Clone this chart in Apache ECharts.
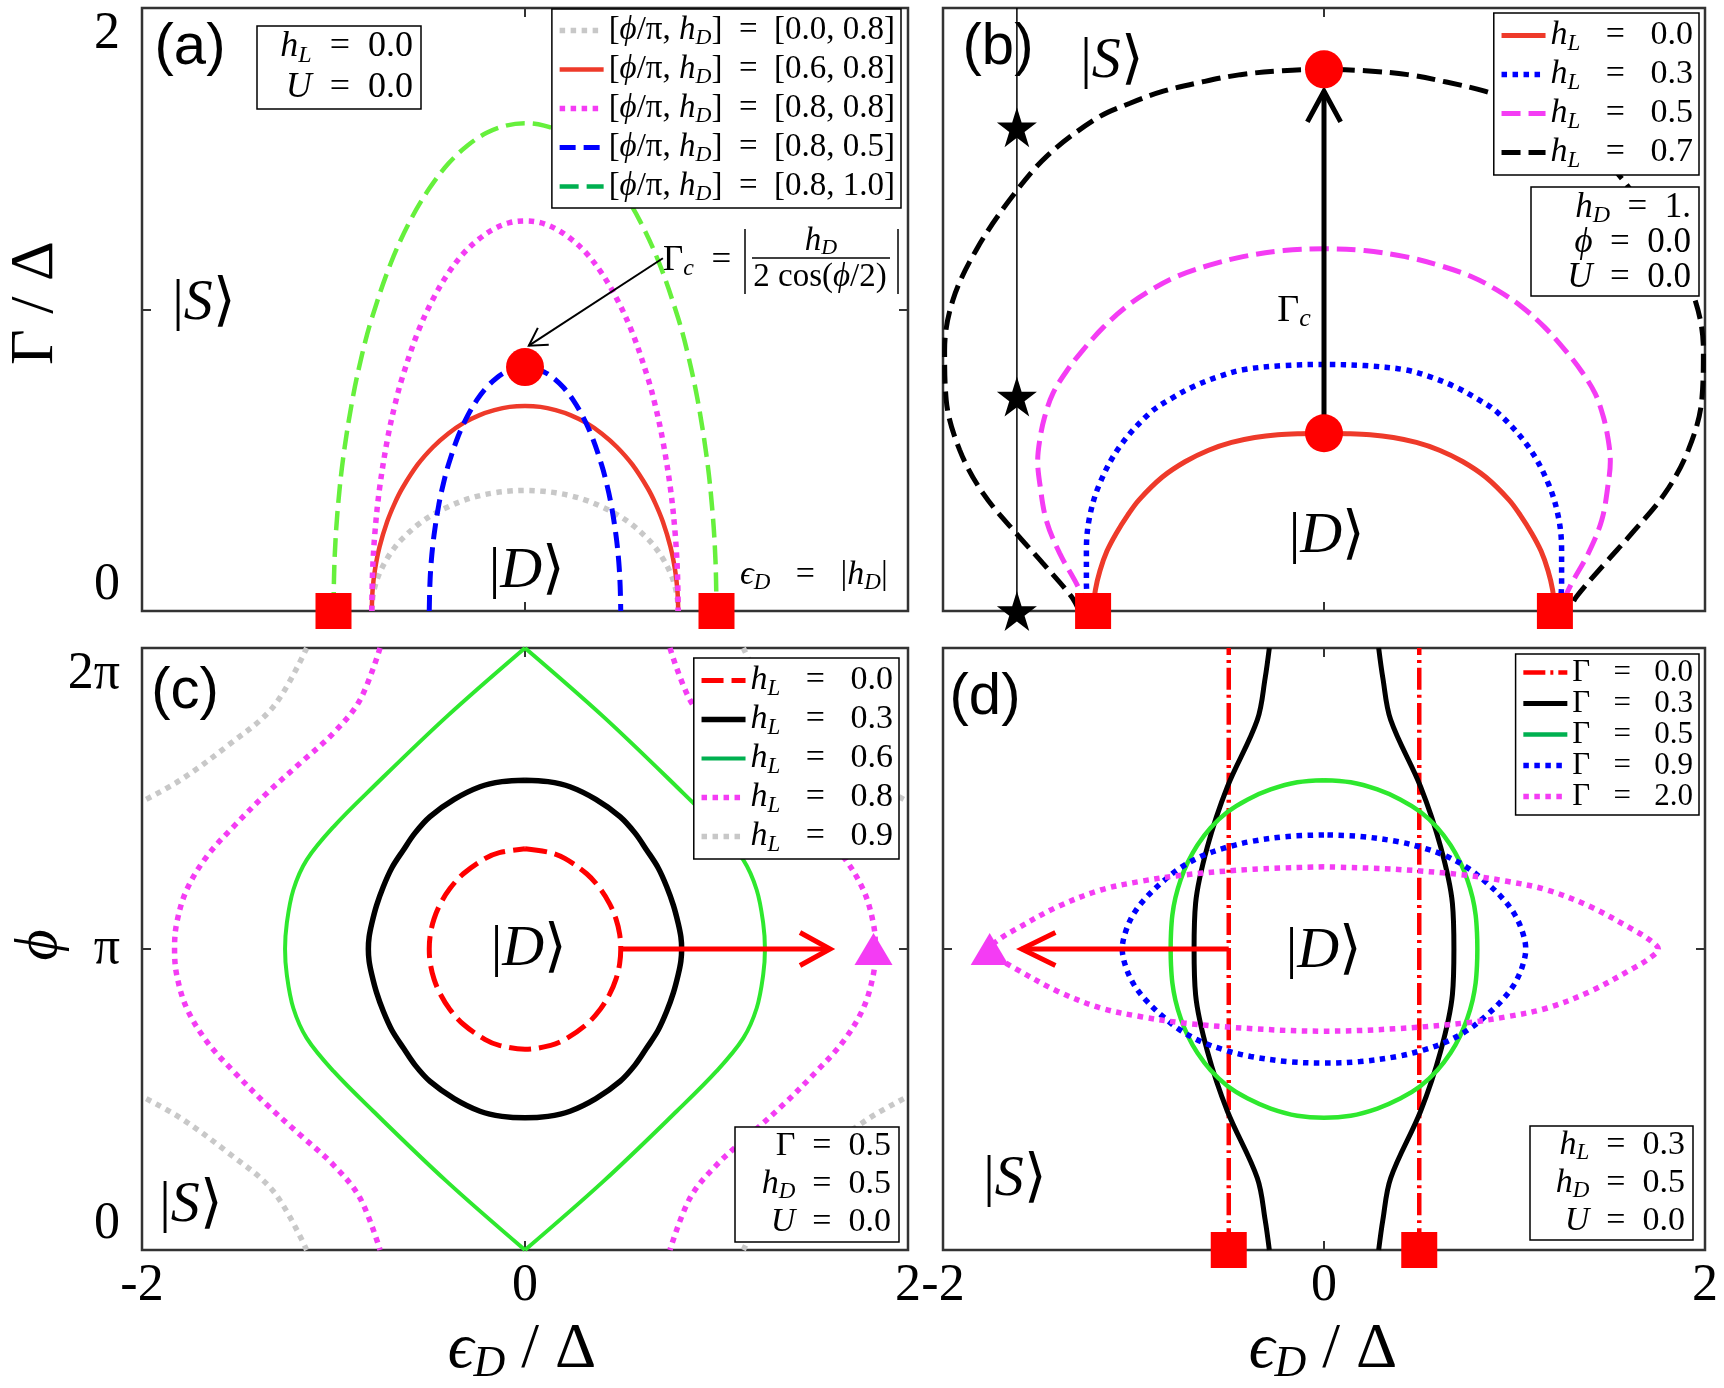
<!DOCTYPE html>
<html>
<head>
    <meta charset="utf-8">
    <script src="https://cdn.jsdelivr.net/npm/echarts@6/dist/echarts.min.js"></script>
    <title>Phase diagrams</title>
</head>
<body style="margin:0;background:#fff;">
<div id="main" style="width:1724px;height:1388px;"></div>
<script type="text/javascript">
    // ---------- panel (a): Gamma/Delta vs eps_D/Delta, hL = 0 ----------
    var aGray = [[-0.8, 0], [-0.796, 0.04], [-0.784, 0.08], [-0.76, 0.125], [-0.72, 0.174], [-0.68, 0.211], [-0.64, 0.24], [-0.56, 0.286], [-0.48, 0.32], [-0.4, 0.346], [-0.32, 0.367], [-0.24, 0.382], [-0.16, 0.392], [-0.08, 0.398], [0, 0.4],
        [0.08, 0.398], [0.16, 0.392], [0.24, 0.382], [0.32, 0.367], [0.4, 0.346], [0.48, 0.32], [0.56, 0.286], [0.64, 0.24], [0.68, 0.211], [0.72, 0.174], [0.76, 0.125], [0.784, 0.08], [0.796, 0.04], [0.8, 0]];
    var aRed = [[-0.8, 0], [-0.796, 0.068], [-0.784, 0.135], [-0.76, 0.212], [-0.72, 0.296], [-0.68, 0.358], [-0.64, 0.408], [-0.56, 0.486], [-0.48, 0.544], [-0.4, 0.589], [-0.32, 0.624], [-0.24, 0.649], [-0.16, 0.666], [-0.08, 0.677], [0, 0.68],
        [0.08, 0.677], [0.16, 0.666], [0.24, 0.649], [0.32, 0.624], [0.4, 0.589], [0.48, 0.544], [0.56, 0.486], [0.64, 0.408], [0.68, 0.358], [0.72, 0.296], [0.76, 0.212], [0.784, 0.135], [0.796, 0.068], [0.8, 0]];
    var aMag = [[-0.8, 0], [-0.796, 0.129], [-0.784, 0.258], [-0.76, 0.404], [-0.72, 0.564], [-0.68, 0.682], [-0.64, 0.776], [-0.56, 0.924], [-0.48, 1.035], [-0.4, 1.121], [-0.32, 1.187], [-0.24, 1.234], [-0.16, 1.268], [-0.08, 1.288], [0, 1.294],
        [0.08, 1.288], [0.16, 1.268], [0.24, 1.234], [0.32, 1.187], [0.4, 1.121], [0.48, 1.035], [0.56, 0.924], [0.64, 0.776], [0.68, 0.682], [0.72, 0.564], [0.76, 0.404], [0.784, 0.258], [0.796, 0.129], [0.8, 0]];
    var aBlue = [[-0.5, 0], [-0.497, 0.081], [-0.49, 0.161], [-0.475, 0.252], [-0.45, 0.353], [-0.425, 0.426], [-0.4, 0.485], [-0.35, 0.578], [-0.3, 0.647], [-0.25, 0.701], [-0.2, 0.742], [-0.15, 0.772], [-0.1, 0.793], [-0.05, 0.805], [0, 0.809],
        [0.05, 0.805], [0.1, 0.793], [0.15, 0.772], [0.2, 0.742], [0.25, 0.701], [0.3, 0.647], [0.35, 0.578], [0.4, 0.485], [0.425, 0.426], [0.45, 0.353], [0.475, 0.252], [0.49, 0.161], [0.497, 0.081], [0.5, 0]];
    var aGreen = [[-1, 0], [-0.995, 0.162], [-0.98, 0.322], [-0.95, 0.505], [-0.9, 0.705], [-0.85, 0.853], [-0.8, 0.971], [-0.7, 1.155], [-0.6, 1.294], [-0.5, 1.401], [-0.4, 1.484], [-0.3, 1.544], [-0.2, 1.586], [-0.1, 1.61], [0, 1.618],
        [0.1, 1.61], [0.2, 1.586], [0.3, 1.544], [0.4, 1.484], [0.5, 1.401], [0.6, 1.294], [0.7, 1.155], [0.8, 0.971], [0.85, 0.853], [0.9, 0.705], [0.95, 0.505], [0.98, 0.322], [0.995, 0.162], [1, 0]];
    var aSquares = [[-1, 0], [1, 0]];
    var aDot = [[0, 0.809]];
    var aArrow = [[0.72, 1.17], [0.02, 0.88]];
    var aArrowHead = [[0.124, 0.883], [0.02, 0.88], [0.067, 0.939]];
    var aLegendPairs = ['0.0, 0.8', '0.6, 0.8', '0.8, 0.8', '0.8, 0.5', '0.8, 1.0'];

    // ---------- panel (b): hD = 1, phi = 0 ----------
    var bRed = [[-1, 0], [-0.99, 0.06], [-0.97, 0.115], [-0.94, 0.17], [-0.9, 0.22], [-0.85, 0.272], [-0.8, 0.316], [-0.7, 0.38], [-0.6, 0.424], [-0.5, 0.456], [-0.4, 0.478], [-0.3, 0.492], [-0.2, 0.5], [-0.1, 0.503], [0, 0.504],
        [0.1, 0.503], [0.2, 0.5], [0.3, 0.492], [0.4, 0.478], [0.5, 0.456], [0.6, 0.424], [0.7, 0.38], [0.8, 0.316], [0.85, 0.272], [0.9, 0.22], [0.94, 0.17], [0.97, 0.115], [0.99, 0.06], [1, 0]];
    var bBlue = [[-1.02, 0], [-1.029, 0.079], [-1.029, 0.173], [-1.015, 0.267], [-0.971, 0.362], [-0.885, 0.466], [-0.755, 0.561], [-0.66, 0.603], [-0.567, 0.636], [-0.46, 0.664], [-0.351, 0.684], [-0.175, 0.696], [0, 0.699],
        [0.175, 0.696], [0.351, 0.684], [0.46, 0.664], [0.567, 0.636], [0.66, 0.603], [0.755, 0.561], [0.885, 0.466], [0.971, 0.362], [1.015, 0.267], [1.029, 0.173], [1.029, 0.079], [1.02, 0]];
    var bMag = [[-1.015, 0], [-1.073, 0.079], [-1.145, 0.164], [-1.203, 0.258], [-1.231, 0.362], [-1.24, 0.425], [-1.231, 0.485], [-1.21, 0.55], [-1.174, 0.617], [-1.115, 0.68], [-1.044, 0.74], [-0.955, 0.805], [-0.856, 0.863], [-0.75, 0.91], [-0.64, 0.948], [-0.5, 0.98], [-0.351, 1.005], [-0.175, 1.022], [0, 1.027],
        [0.175, 1.022], [0.351, 1.005], [0.5, 0.98], [0.64, 0.948], [0.75, 0.91], [0.856, 0.863], [0.955, 0.805], [1.044, 0.74], [1.115, 0.68], [1.174, 0.617], [1.21, 0.55], [1.231, 0.485], [1.24, 0.425], [1.231, 0.362], [1.203, 0.258], [1.145, 0.164], [1.073, 0.079], [1.015, 0]];
    var bBlack = [[-1.06, 0], [-1.094, 0.041], [-1.217, 0.135], [-1.333, 0.22], [-1.477, 0.334], [-1.578, 0.457], [-1.636, 0.598], [-1.643, 0.74], [-1.607, 0.882], [-1.506, 1.024], [-1.361, 1.166], [-1.2, 1.29], [-0.982, 1.398], [-0.84, 1.44], [-0.696, 1.474], [-0.53, 1.5], [-0.362, 1.521], [-0.18, 1.532], [0, 1.536],
        [0.18, 1.532], [0.362, 1.521], [0.53, 1.5], [0.696, 1.474], [0.84, 1.44], [0.982, 1.398], [1.2, 1.29], [1.361, 1.166], [1.506, 1.024], [1.607, 0.882], [1.643, 0.74], [1.636, 0.598], [1.578, 0.457], [1.477, 0.334], [1.333, 0.22], [1.217, 0.135], [1.094, 0.041], [1.06, 0]];
    var bSquares = [[-1, 0], [1, 0]];
    var bDots = [[0, 0.504], [0, 1.536]];
    var bStars = [[-1.33, 1.372], [-1.33, 0.608], [-1.33, 0]];
    var bStarLine = [[-1.33, 0], [-1.33, 1.71]];
    var bArrow = [[0, 0.5], [0, 1.474]];
    var bArrowHead = [[-0.072, 1.387], [0, 1.474], [0.072, 1.387]];
    var bLegendValues = ['0.0', '0.3', '0.5', '0.7'];

    // ---------- panel (c): phi vs eps_D, Gamma = 0.5, hD = 0.5 (y in units of pi) ----------
    var cRed = [[0, 1.333], [0.134, 1.32], [0.21, 1.3], [0.322, 1.25], [0.393, 1.2], [0.442, 1.15], [0.475, 1.1], [0.494, 1.05], [0.5, 1.0], [0.494, 0.95], [0.475, 0.9], [0.442, 0.85], [0.393, 0.8], [0.322, 0.75], [0.21, 0.7], [0.134, 0.68], [0, 0.667],
        [-0.134, 0.68], [-0.21, 0.7], [-0.322, 0.75], [-0.393, 0.8], [-0.442, 0.85], [-0.475, 0.9], [-0.494, 0.95], [-0.5, 1.0], [-0.494, 1.05], [-0.475, 1.1], [-0.442, 1.15], [-0.393, 1.2], [-0.322, 1.25], [-0.21, 1.3], [-0.134, 1.32], [0, 1.333]];
    var cBlack = [[0, 1.561], [0.12, 1.556], [0.235, 1.539], [0.37, 1.497], [0.496, 1.44], [0.575, 1.385], [0.635, 1.329], [0.695, 1.27], [0.74, 1.207], [0.775, 1.145], [0.8, 1.085], [0.814, 1.04], [0.818, 1.0],
        [0.814, 0.96], [0.8, 0.915], [0.775, 0.855], [0.74, 0.793], [0.695, 0.73], [0.635, 0.671], [0.575, 0.615], [0.496, 0.56], [0.37, 0.503], [0.235, 0.461], [0.12, 0.444], [0, 0.439],
        [-0.12, 0.444], [-0.235, 0.461], [-0.37, 0.503], [-0.496, 0.56], [-0.575, 0.615], [-0.635, 0.671], [-0.695, 0.73], [-0.74, 0.793], [-0.775, 0.855], [-0.8, 0.915], [-0.814, 0.96], [-0.818, 1.0],
        [-0.814, 1.04], [-0.8, 1.085], [-0.775, 1.145], [-0.74, 1.207], [-0.695, 1.27], [-0.635, 1.329], [-0.575, 1.385], [-0.496, 1.44], [-0.37, 1.497], [-0.235, 1.539], [-0.12, 1.556], [0, 1.561]];
    var cGreen = [[0, 2], [0.409, 1.772], [0.792, 1.539], [1.0, 1.406], [1.14, 1.296], [1.21, 1.196], [1.244, 1.085], [1.253, 1.0], [1.244, 0.915], [1.21, 0.804], [1.14, 0.704], [1.0, 0.594], [0.792, 0.461], [0.409, 0.228], [0, 0],
        ['-', '-'],
        [0, 0], [-0.409, 0.228], [-0.792, 0.461], [-1.0, 0.594], [-1.14, 0.704], [-1.21, 0.804], [-1.244, 0.915], [-1.253, 1.0], [-1.244, 1.085], [-1.21, 1.196], [-1.14, 1.296], [-1.0, 1.406], [-0.792, 1.539], [-0.409, 1.772], [0, 2]];
    var cMag = [[-0.757, 2], [-0.862, 1.827], [-1.001, 1.717], [-1.175, 1.617], [-1.349, 1.517], [-1.523, 1.406], [-1.662, 1.307], [-1.767, 1.196], [-1.819, 1.085], [-1.83, 1.0], [-1.819, 0.915], [-1.767, 0.804], [-1.662, 0.693], [-1.523, 0.594], [-1.349, 0.483], [-1.175, 0.383], [-1.001, 0.283], [-0.862, 0.173], [-0.757, 0],
        ['-', '-'],
        [0.757, 2], [0.862, 1.827], [1.001, 1.717], [1.175, 1.617], [1.349, 1.517], [1.523, 1.406], [1.662, 1.307], [1.767, 1.196], [1.819, 1.085], [1.83, 1.0], [1.819, 0.915], [1.767, 0.804], [1.662, 0.693], [1.523, 0.594], [1.349, 0.483], [1.175, 0.383], [1.001, 0.283], [0.862, 0.173], [0.757, 0]];
    var cGray = [[-1.14, 2], [-1.314, 1.805], [-1.558, 1.673], [-1.8, 1.561], [-2, 1.49], ['-', '-'],
        [-1.14, 0], [-1.314, 0.195], [-1.558, 0.327], [-1.8, 0.439], [-2, 0.51], ['-', '-'],
        [1.14, 2], [1.314, 1.805], [1.558, 1.673], [1.8, 1.561], [2, 1.49], ['-', '-'],
        [1.14, 0], [1.314, 0.195], [1.558, 0.327], [1.8, 0.439], [2, 0.51]];
    var cTriangle = [[1.82, 1.0]];
    var cArrow = [[0.5, 1], [1.593, 1]];
    var cArrowHead = [[1.436, 1.055], [1.593, 1], [1.436, 0.945]];
    var cLegendValues = ['0.0', '0.3', '0.6', '0.8', '0.9'];
    var phiTickLabels = ['0', 'π', '2π'];

    // ---------- panel (d): phi vs eps_D, hL = 0.3, hD = 0.5 ----------
    var dRed = [[-0.5, 0], [-0.5, 2], ['-', '-'], [0.5, 0], [0.5, 2]];
    var dBlack = [[-0.287, 2], [-0.309, 1.9], [-0.35, 1.761], [-0.507, 1.539], [-0.612, 1.34], [-0.674, 1.152], [-0.682, 1.0], [-0.674, 0.848], [-0.612, 0.66], [-0.507, 0.461], [-0.35, 0.239], [-0.309, 0.1], [-0.287, 0],
        ['-', '-'],
        [0.287, 2], [0.309, 1.9], [0.35, 1.761], [0.507, 1.539], [0.612, 1.34], [0.674, 1.152], [0.682, 1.0], [0.674, 0.848], [0.612, 0.66], [0.507, 0.461], [0.35, 0.239], [0.309, 0.1], [0.287, 0]];
    var dGreen = [[0, 1.561], [-0.14, 1.554], [-0.28, 1.53], [-0.4, 1.497], [-0.507, 1.455], [-0.595, 1.403], [-0.665, 1.345], [-0.715, 1.288], [-0.752, 1.231], [-0.78, 1.17], [-0.796, 1.113], [-0.803, 1.055], [-0.805, 1.0],
        [-0.803, 0.945], [-0.796, 0.887], [-0.78, 0.83], [-0.752, 0.769], [-0.715, 0.712], [-0.665, 0.655], [-0.595, 0.597], [-0.507, 0.545], [-0.4, 0.503], [-0.28, 0.47], [-0.14, 0.446], [0, 0.439],
        [0.14, 0.446], [0.28, 0.47], [0.4, 0.503], [0.507, 0.545], [0.595, 0.597], [0.665, 0.655], [0.715, 0.712], [0.752, 0.769], [0.78, 0.83], [0.796, 0.887], [0.803, 0.945], [0.805, 1.0],
        [0.803, 1.055], [0.796, 1.113], [0.78, 1.17], [0.752, 1.231], [0.715, 1.288], [0.665, 1.345], [0.595, 1.403], [0.507, 1.455], [0.4, 1.497], [0.28, 1.53], [0.14, 1.554], [0, 1.561]];
    var dBlue = [[0, 1.379], [-0.19, 1.374], [-0.385, 1.357], [-0.525, 1.335], [-0.647, 1.307], [-0.76, 1.267], [-0.857, 1.218], [-0.935, 1.17], [-0.997, 1.119], [-1.04, 1.06], [-1.059, 1.0],
        [-1.04, 0.94], [-0.997, 0.881], [-0.935, 0.83], [-0.857, 0.782], [-0.76, 0.733], [-0.647, 0.693], [-0.525, 0.665], [-0.385, 0.643], [-0.19, 0.626], [0, 0.621],
        [0.19, 0.626], [0.385, 0.643], [0.525, 0.665], [0.647, 0.693], [0.76, 0.733], [0.857, 0.782], [0.935, 0.83], [0.997, 0.881], [1.04, 0.94], [1.059, 1.0],
        [1.04, 1.06], [0.997, 1.119], [0.935, 1.17], [0.857, 1.218], [0.76, 1.267], [0.647, 1.307], [0.525, 1.335], [0.385, 1.357], [0.19, 1.374], [0, 1.379]];
    var dMag = [[0, 1.273], [-0.37, 1.265], [-0.735, 1.246], [-0.96, 1.225], [-1.172, 1.196], [-1.4, 1.14], [-1.62, 1.065], [-1.71, 1.03], [-1.755, 1.0],
        [-1.71, 0.97], [-1.62, 0.935], [-1.4, 0.86], [-1.172, 0.804], [-0.96, 0.775], [-0.735, 0.754], [-0.37, 0.735], [0, 0.727],
        [0.37, 0.735], [0.735, 0.754], [0.96, 0.775], [1.172, 0.804], [1.4, 0.86], [1.62, 0.935], [1.71, 0.97], [1.755, 1.0],
        [1.71, 1.03], [1.62, 1.065], [1.4, 1.14], [1.172, 1.196], [0.96, 1.225], [0.735, 1.246], [0.37, 1.265], [0, 1.273]];
    var dSquares = [[-0.5, 0], [0.5, 0]];
    var dTriangle = [[-1.755, 1.0]];
    var dArrow = [[-0.5, 1], [-1.587, 1]];
    var dArrowHead = [[-1.41, 1.055], [-1.587, 1], [-1.41, 0.945]];
    var dLegendValues = ['0.0', '0.3', '0.5', '0.9', '2.0'];

    var SERIF = 'Liberation Serif';
    var SANS = 'Liberation Sans';
    var STAR = 'path://M50,0 L61.2,34.5 L97.6,34.5 L68.2,55.9 L79.4,90.5 L50,69.1 L20.6,90.5 L31.8,55.9 L2.4,34.5 L38.8,34.5 Z';

    // n = upright, i = italic, s = italic subscript (dropped by top padding)
    function richSet(f, lh) {
        var sf = Math.round(f * 0.68);
        return {
            n: {fontFamily: SERIF, fontSize: f, lineHeight: lh, color: '#000'},
            i: {fontFamily: SERIF, fontStyle: 'italic', fontSize: f, lineHeight: lh, color: '#000'},
            s: {
                fontFamily: SERIF, fontStyle: 'italic', fontSize: sf,
                lineHeight: sf, padding: [Math.round(f * 0.46), 0, 0, 0], color: '#000'
            }
        };
    }

    var grids = [
        {left: 142, top: 8, width: 766, height: 603},
        {left: 943, top: 8, width: 762, height: 603},
        {left: 142, top: 648, width: 766, height: 602},
        {left: 943, top: 648, width: 762, height: 602}
    ];
    grids.forEach(function (g) {
        g.show = true;
        g.borderColor = '#333';
        g.borderWidth = 2.5;
        g.backgroundColor = 'transparent';
        g.containLabel = false;
        g.outerBoundsMode = 'none';
    });

    var xAxes = [], yAxes = [];

    function tickStyle(show) {
        return {show: show, inside: true, length: 9, lineStyle: {color: '#333', width: 2}};
    }

    function addAxes(gi, xr, yr, xFmt, yFmt, yTicks) {
        [0, 1].forEach(function (k) {
            xAxes.push({
                type: 'value', gridIndex: gi, min: xr[0], max: xr[1], interval: xr[2],
                position: k === 0 ? 'bottom' : 'top',
                axisLine: {show: false, onZero: false}, splitLine: {show: false},
                axisTick: tickStyle(true),
                axisLabel: {
                    show: k === 0 && !!xFmt, formatter: xFmt, margin: 10, color: '#000',
                    fontFamily: SERIF, fontSize: 52, showMinLabel: true, showMaxLabel: true
                }
            });
            yAxes.push({
                type: 'value', gridIndex: gi, min: yr[0], max: yr[1], interval: yr[2],
                position: k === 0 ? 'left' : 'right',
                axisLine: {show: false, onZero: false}, splitLine: {show: false},
                axisTick: tickStyle(yTicks),
                axisLabel: {
                    show: k === 0 && !!yFmt, formatter: yFmt, margin: 22, color: '#000',
                    fontFamily: SERIF, fontSize: 52, showMinLabel: true, showMaxLabel: true,
                    verticalAlignMinLabel: 'bottom', verticalAlignMaxLabel: 'top'
                }
            });
        });
    }

    var epsFmt = function (v) { return String(v); };
    addAxes(0, [-2, 2, 2], [0, 2, 1], null, function (v) { return v === 1 ? '' : String(v); }, true);
    addAxes(1, [-1.65, 1.65, 1.65], [0, 1.71, 1.71], null, null, false);
    addAxes(2, [-2, 2, 2], [0, 2, 1], epsFmt, function (v) { return phiTickLabels[v]; }, true);
    addAxes(3, [-2, 2, 2], [0, 2, 1], epsFmt, null, true);

    var series = [];

    function curve(name, gi, data, color, dash, width) {
        series.push({
            name: name, type: 'line', xAxisIndex: 2 * gi, yAxisIndex: 2 * gi,
            data: data, symbol: 'none', smooth: 0.35, silent: true, z: 2,
            connectNulls: false,
            lineStyle: {color: color, width: width, type: dash, cap: 'butt'},
            itemStyle: {color: color}
        });
    }

    function arrow(gi, data, color, width) {
        series.push({
            type: 'line', xAxisIndex: 2 * gi, yAxisIndex: 2 * gi, data: data,
            symbol: 'none', silent: true, z: 3, clip: false,
            lineStyle: {color: color, width: width, type: 'solid', join: 'miter', cap: 'butt'}
        });
    }

    function marks(gi, data, symbol, size, color) {
        series.push({
            type: 'scatter', xAxisIndex: 2 * gi, yAxisIndex: 2 * gi, data: data,
            symbol: symbol, symbolSize: size, silent: true, z: 5, clip: false,
            itemStyle: {color: color, opacity: 1}
        });
    }

    var RED = '#ff0000', CURVERED = '#ee3a2a', MAG = '#f43cf4', BLUE = '#0000ff',
        GRAY = '#c8c8c8', LIME = '#66f03c', GREEN = '#2ee82e', LEGGREEN = '#00b050';
    var DOT = [5.5, 5.5], DASH = [19, 8], DASHDOT = [22, 5, 3, 5];

    // (a)
    curve('a1', 0, aGray, GRAY, DOT, 5.5);
    curve('a2', 0, aRed, CURVERED, 'solid', 4.5);
    curve('a3', 0, aMag, MAG, DOT, 5.5);
    curve('a4', 0, aBlue, BLUE, [16, 8], 5);
    curve('a5', 0, aGreen, LIME, DASH, 4.5);
    arrow(0, aArrow, '#000', 2);
    arrow(0, aArrowHead, '#000', 2);
    marks(0, aSquares, 'rect', 36, RED);
    marks(0, aDot, 'circle', 38, RED);

    // (b)
    curve('b1', 1, bRed, CURVERED, 'solid', 5);
    curve('b2', 1, bBlue, BLUE, DOT, 5.5);
    curve('b3', 1, bMag, MAG, DASH, 5);
    curve('b4', 1, bBlack, '#000', DASH, 5);
    arrow(1, bStarLine, '#000', 1.5);
    arrow(1, bArrow, '#000', 5);
    arrow(1, bArrowHead, '#000', 5);
    marks(1, bStars, STAR, 40, '#000');
    marks(1, bSquares, 'rect', 36, RED);
    marks(1, bDots, 'circle', 38, RED);

    // (c)
    curve('c1', 2, cRed, RED, [22, 8], 5);
    curve('c2', 2, cBlack, '#000', 'solid', 5.5);
    curve('c3', 2, cGreen, GREEN, 'solid', 4);
    curve('c4', 2, cMag, MAG, DOT, 5.5);
    curve('c5', 2, cGray, GRAY, DOT, 5.5);
    arrow(2, cArrow, RED, 5);
    arrow(2, cArrowHead, RED, 5);
    marks(2, cTriangle, 'triangle', [38, 32], MAG);

    // (d)
    curve('d1', 3, dRed, RED, DASHDOT, 4.5);
    curve('d2', 3, dBlack, '#000', 'solid', 5);
    curve('d3', 3, dGreen, GREEN, 'solid', 4.5);
    curve('d4', 3, dBlue, BLUE, DOT, 5.5);
    curve('d5', 3, dMag, MAG, DOT, 5.5);
    arrow(3, dArrow, RED, 5);
    arrow(3, dArrowHead, RED, 5);
    marks(3, dSquares, 'rect', 36, RED);
    marks(3, dTriangle, 'triangle', [38, 32], MAG);

    // ---------- legends ----------
    function legendOf(names, texts, right, top, f, lh, gap, greenName) {
        var map = {};
        names.forEach(function (n, i) { map[n] = texts[i]; });
        return {
            orient: 'vertical', right: right, top: top, align: 'left',
            data: names.map(function (n) {
                return n === greenName ? {name: n, lineStyle: {color: LEGGREEN}} : {name: n};
            }),
            formatter: function (n) { return map[n]; },
            itemWidth: 44, itemHeight: 14, itemGap: gap,
            padding: [3, 6, 3, 5],
            backgroundColor: '#fff', borderColor: '#000', borderWidth: 1.5, borderRadius: 0,
            selectedMode: false, z: 10,
            itemStyle: {opacity: 0},
            lineStyle: {width: 'inherit'},
            textStyle: {fontSize: f, fontFamily: SERIF, color: '#000', rich: richSet(f, lh)}
        };
    }

    var hL = function (v) { return '{i|h}{s|L}{n|   =   ' + v + '}'; };
    var legends = [
        legendOf(['a1', 'a2', 'a3', 'a4', 'a5'], aLegendPairs.map(function (p) {
            return '{n|[}{i|ϕ}{n|/π, }{i|h}{s|D}{n|]  =  [' + p + ']}';
        }), 823, 9, 33, 38, 2, 'a5'),
        legendOf(['b1', 'b2', 'b3', 'b4'], bLegendValues.map(hL), 25, 13, 34, 39, 0, null),
        legendOf(['c1', 'c2', 'c3', 'c4', 'c5'], cLegendValues.map(hL), 825, 658, 34, 39, 0, 'c3'),
        legendOf(['d1', 'd2', 'd3', 'd4', 'd5'], dLegendValues.map(function (v) {
            return '{n|Γ   =   ' + v + '}';
        }), 25, 654, 31, 33, 0, 'd3')
    ];

    // ---------- text annotations ----------
    var elements = [];

    function txt(x, y, str, f, align, rot) {
        elements.push({
            type: 'text', x: x, y: y, z: 101, rotation: rot || 0,
            style: {
                text: str, rich: richSet(f, Math.round(f * 1.14)), fontSize: f, fontFamily: SERIF,
                align: align || 'center', verticalAlign: 'middle', fill: '#000'
            }
        });
    }

    function panelTag(x, y, str) {
        elements.push({
            type: 'text', x: x, y: y, z: 101,
            style: {text: str, fontFamily: SANS, fontSize: 58, align: 'center', verticalAlign: 'middle', fill: '#000'}
        });
    }

    function box(x, y, w, h) {
        elements.push({
            type: 'rect', z: 100, shape: {x: x, y: y, width: w, height: h},
            style: {fill: '#fff', stroke: '#000', lineWidth: 1.5}
        });
    }

    function rule(x1, y1, x2, y2) {
        elements.push({
            type: 'line', z: 101, shape: {x1: x1, y1: y1, x2: x2, y2: y2},
            style: {stroke: '#000', lineWidth: 1.5}
        });
    }

    var ket = function (c) { return '{n||}{i|' + c + '}{n|⟩}'; };

    // (a)
    panelTag(190, 48, '(a)');
    box(257, 26, 164, 83);
    txt(413, 47, '{i|h}{s|L}{n|  =  0.0}', 36, 'right');
    txt(413, 88, '{i|U}{n|  =  0.0}', 36, 'right');
    txt(204, 304, ket('S'), 58);
    txt(527, 572, ket('D'), 58);
    txt(663, 261, '{n|Γ}{s|c}{n|  =}', 35, 'left');
    rule(745, 229, 745, 294);
    txt(821, 241, '{i|h}{s|D}', 33);
    rule(752, 258, 890, 258);
    txt(820, 277, '{n|2 cos(}{i|ϕ}{n|/2)}', 33);
    rule(898, 229, 898, 294);
    txt(740, 575, '{i|ϵ}{s|D}{n|   =   |}{i|h}{s|D}{n||}', 34, 'left');
    txt(36, 303, '{n|Γ / Δ}', 62, 'center', Math.PI / 2);

    // (b)
    panelTag(998, 48, '(b)');
    txt(1112, 62, ket('S'), 58);
    txt(1327, 537, ket('D'), 58);
    txt(1294, 311, '{n|Γ}{s|c}', 38);
    box(1531, 187, 168, 109);
    txt(1691, 208, '{i|h}{s|D}{n|  =  1.}', 35, 'right');
    txt(1691, 243, '{i|ϕ}{n|  =  0.0}', 35, 'right');
    txt(1691, 278, '{i|U}{n|  =  0.0}', 35, 'right');

    // (c)
    panelTag(185, 692, '(c)');
    txt(529, 950, ket('D'), 58);
    txt(191, 1206, ket('S'), 58);
    box(735, 1127, 164, 115);
    txt(891, 1146, '{n|Γ  =  0.5}', 34, 'right');
    txt(891, 1184, '{i|h}{s|D}{n|  =  0.5}', 34, 'right');
    txt(891, 1222, '{i|U}{n|  =  0.0}', 34, 'right');
    txt(40, 945, '{i|ϕ}', 60, 'center', Math.PI / 2);
    txt(522, 1350, '{i|ϵ}{s|D}{n| / Δ}', 64);

    // (d)
    panelTag(985, 698, '(d)');
    txt(1324, 952, ket('D'), 58);
    txt(1015, 1180, ket('S'), 58);
    box(1530, 1126, 163, 114);
    txt(1685, 1145, '{i|h}{s|L}{n|  =  0.3}', 34, 'right');
    txt(1685, 1183, '{i|h}{s|D}{n|  =  0.5}', 34, 'right');
    txt(1685, 1221, '{i|U}{n|  =  0.0}', 34, 'right');
    txt(1323, 1350, '{i|ϵ}{s|D}{n| / Δ}', 64);

    var myChart = echarts.init(document.getElementById('main'));
    myChart.setOption({
        animation: false,
        backgroundColor: '#fff',
        grid: grids,
        xAxis: xAxes,
        yAxis: yAxes,
        legend: legends,
        series: series,
        graphic: {elements: elements}
    });
</script>
</body>
</html>
